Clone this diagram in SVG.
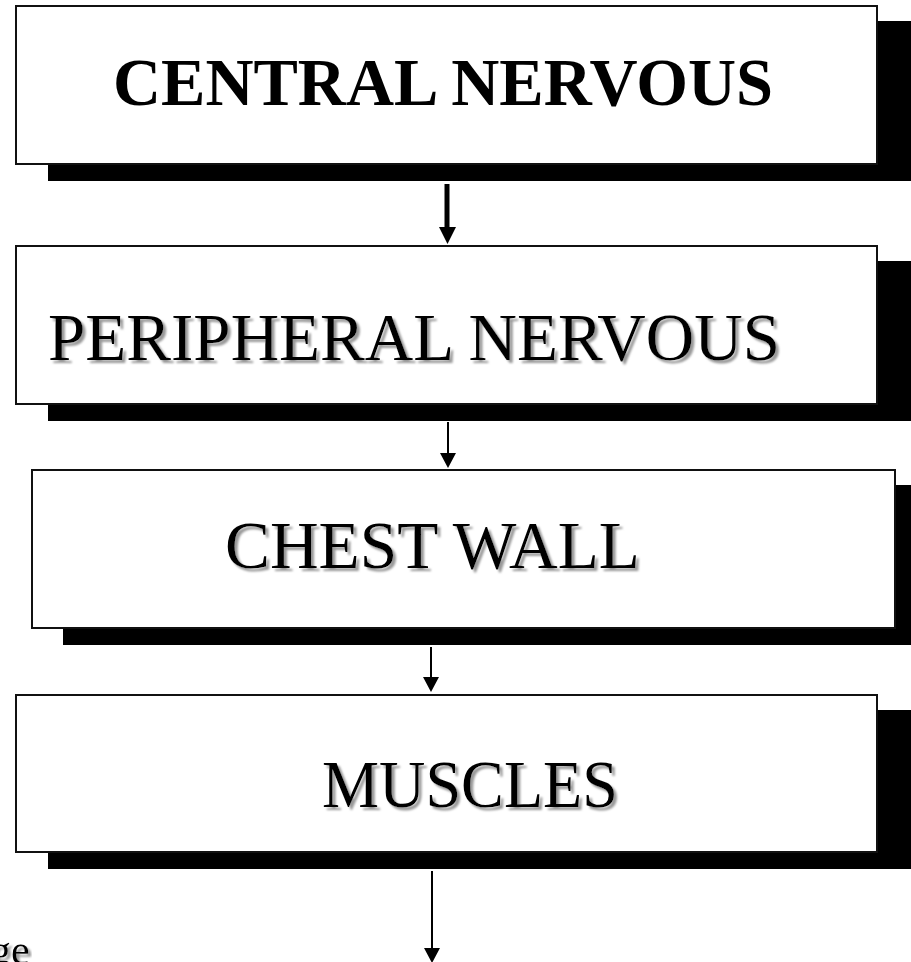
<svg xmlns="http://www.w3.org/2000/svg" width="911" height="962" viewBox="0 0 911 962">
<style>
.box{fill:#fff;stroke:#111;stroke-width:2}
.sh{fill:#000}
.t{font-family:"Liberation Serif","DejaVu Serif",serif;font-size:68px;fill:#000}
.ds{filter:url(#tshadow)}
.b{font-weight:bold}
.ln{stroke:#000;fill:none}
.hd{fill:#000}
</style>
<defs>
<filter id="tshadow" x="-5%" y="-20%" width="110%" height="150%">
<feGaussianBlur in="SourceAlpha" stdDeviation="1" result="bl"/>
<feOffset in="bl" dx="3" dy="3" result="off"/>
<feFlood flood-color="#999"/>
<feComposite in2="off" operator="in" result="gs"/>
<feMerge><feMergeNode in="gs"/><feMergeNode in="SourceGraphic"/></feMerge>
</filter>
</defs>
<g id="node-central">
<rect class="sh" x="48" y="21" width="870" height="160"/>
<rect class="box" x="16" y="6" width="861" height="158"/>
<text class="t b" x="113" y="105" textLength="660" lengthAdjust="spacingAndGlyphs">CENTRAL NERVOUS</text>
</g>
<g id="node-peripheral">
<rect class="sh" x="48" y="261" width="870" height="160"/>
<rect class="box" x="16" y="246" width="861" height="158"/>
<text class="t ds" x="48" y="360" textLength="732" lengthAdjust="spacingAndGlyphs">PERIPHERAL NERVOUS</text>
</g>
<g id="node-chest">
<rect class="sh" x="63" y="485" width="860" height="160"/>
<rect class="box" x="32" y="470" width="863" height="158"/>
<text class="t ds" x="225" y="568" textLength="415" lengthAdjust="spacingAndGlyphs">CHEST WALL</text>
</g>
<g id="node-muscles">
<rect class="sh" x="48" y="710" width="870" height="159"/>
<rect class="box" x="16" y="695" width="861" height="157"/>
<text class="t ds" x="322" y="807" textLength="296" lengthAdjust="spacingAndGlyphs">MUSCLES</text>
</g>
<g id="connectors">
<line class="ln" x1="447" y1="184" x2="447" y2="228" stroke-width="5"/>
<polygon class="hd" points="439,227 456,227 447.5,244"/>
<line class="ln" x1="448" y1="422" x2="448" y2="454" stroke-width="2"/>
<polygon class="hd" points="440,453 456,453 448,468"/>
<line class="ln" x1="431" y1="647" x2="431" y2="678" stroke-width="2"/>
<polygon class="hd" points="423,677 439,677 431,692"/>
<line class="ln" x1="432" y1="871" x2="432" y2="949" stroke-width="2"/>
<polygon class="hd" points="424,948 440,948 432,963"/>
</g>
<g id="footer">
<text class="ds" x="-10" y="964" font-family="Liberation Serif, DejaVu Serif, serif" font-size="42" fill="#000">ge</text>
</g>
</svg>
